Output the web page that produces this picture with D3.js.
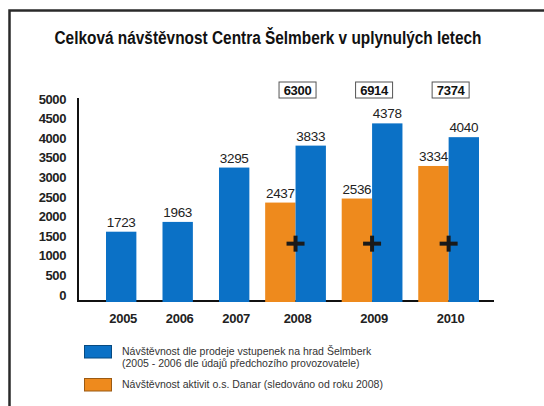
<!DOCTYPE html>
<html><head><meta charset="utf-8">
<script src="https://cdn.jsdelivr.net/npm/d3@7"></script>
<style>body{margin:0;background:#fff}svg{display:block}</style>
</head><body>
<script>
const years = ["2005","2006","2007","2008","2009","2010"];
const castleVisits = [1723,1963,3295,3833,4378,4040];   // blue series
const danarVisits  = [null,null,null,2437,2536,3334];  // orange series
const totals       = [null,null,null,6300,6914,7374];
const yTicks = [0,500,1000,1500,2000,2500,3000,3500,4000,4500,5000];
const titleText = "Celková návštěvnost Centra Šelmberk v uplynulých letech";
const legendLabels = [
  ["Návštěvnost dle prodeje vstupenek na hrad Šelmberk","(2005 - 2006 dle údajů předchozího provozovatele)"],
  ["Návštěvnost aktivit o.s. Danar (sledováno od roku 2008)"]
];
const plusLevel = 1430;

const W=544,H=406;
const BLUE="#0b71c6", ORANGE="#ee8a1d";
const FONT="'Liberation Sans Narrow','Liberation Sans',Arial,sans-serif";
const svg=d3.select("body").append("svg").attr("width",W).attr("height",H);

// frame
svg.append("path").attr("d",`M9.5,${H} V10.5 H${W}`).attr("fill","none").attr("stroke","#2a2a2a").attr("stroke-width",2.5);

// title
svg.append("text").attr("x",268).attr("y",44).attr("text-anchor","middle")
  .attr("font-family",FONT).attr("font-weight","bold").attr("font-size",17.5)
  .attr("textLength",427).attr("lengthAdjust","spacingAndGlyphs").attr("fill","#111").text(titleText);

// scales
const y=d3.scaleLinear().domain([0,5000]).range([302,98]);
const yLab=d3.scaleLinear().domain([0,5000]).range([295,99]);

// x layout in "bar units"
const gapSingle=0.86, gapDouble=0.52;
const groups=[]; let u=0;
years.forEach((yr,i)=>{
  const n = danarVisits[i]!=null ? 2 : 1;
  if(i>0) u += (n===2?gapDouble:gapSingle);
  groups.push({year:yr,start:u,n,i}); u+=n;
});
const x=d3.scaleLinear().domain([0,u]).range([106,479]);
const bw=x(1)-x(0);

// axes lines
svg.append("line").attr("x1",78).attr("x2",78).attr("y1",98).attr("y2",301).attr("stroke","#111").attr("stroke-width",2);
svg.append("line").attr("x1",77).attr("x2",494).attr("y1",301).attr("y2",301).attr("stroke","#111").attr("stroke-width",2);

// y tick labels
const ya=d3.axisLeft(yLab).tickValues(yTicks).tickFormat(d3.format("d")).tickSize(0).tickPadding(0);
const yg=svg.append("g").attr("transform","translate(66,0)").call(ya);
yg.select(".domain").remove();
yg.selectAll("text").attr("font-family","'Liberation Sans',Arial,sans-serif").attr("font-size",13).attr("fill","#222").attr("font-weight","bold").attr("letter-spacing","-0.4");

// bars
const bars=[];
groups.forEach(g=>{
  let k=0;
  if(danarVisits[g.i]!=null){bars.push({v:danarVisits[g.i],pos:g.start+k,c:ORANGE});k++;}
  bars.push({v:castleVisits[g.i],pos:g.start+k,c:BLUE});
});
svg.selectAll("rect.bar").data(bars).join("rect").attr("class","bar")
  .attr("x",d=>x(d.pos)).attr("width",bw).attr("y",d=>y(d.v)).attr("height",d=>y(0)-y(d.v))
  .attr("fill",d=>d.c);
svg.selectAll("text.val").data(bars).join("text").attr("class","val")
  .attr("x",d=>x(d.pos+0.5)).attr("y",d=>y(d.v)-5).attr("text-anchor","middle")
  .attr("font-family","'Liberation Sans',Arial,sans-serif").attr("font-size",13.5).attr("fill","#222").attr("letter-spacing","-0.3")
  .text(d=>d.v);

// year labels
svg.selectAll("text.yr").data(groups).join("text").attr("class","yr")
  .attr("x",g=>x(g.start+g.n/2)+2).attr("y",323).attr("text-anchor","middle")
  .attr("font-family","'Liberation Sans',Arial,sans-serif").attr("font-weight","bold").attr("font-size",13).attr("fill","#222").attr("letter-spacing","-0.3")
  .text(g=>g.year);

// plus signs and totals
const dbl=groups.filter(g=>totals[g.i]!=null);
const pl=svg.selectAll("g.plus").data(dbl).join("g").attr("class","plus")
  .attr("transform",g=>`translate(${x(g.start+1)},${y(plusLevel)})`);
pl.append("line").attr("x1",-9).attr("x2",9).attr("stroke","#1a1a1a").attr("stroke-width",4);
pl.append("line").attr("y1",-8).attr("y2",8).attr("stroke","#1a1a1a").attr("stroke-width",4);

const tb=svg.selectAll("g.tot").data(dbl).join("g").attr("class","tot")
  .attr("transform",g=>`translate(${x(g.start+1)+2},90)`);
tb.append("rect").attr("x",-18.5).attr("y",-8).attr("width",37).attr("height",16).attr("fill","#fff").attr("stroke","#555").attr("stroke-width",1);
tb.append("text").attr("text-anchor","middle").attr("y",5).attr("font-family","'Liberation Sans',Arial,sans-serif")
  .attr("font-weight","bold").attr("font-size",13).attr("fill","#111").attr("letter-spacing","-0.3").text(g=>totals[g.i]);

// legend
const lg=svg.append("g");
const items=[{c:BLUE,y:345,lines:legendLabels[0]},{c:ORANGE,y:378,lines:legendLabels[1]}];
items.forEach(it=>{
  lg.append("rect").attr("x",84.5).attr("y",it.y+0.5).attr("width",27).attr("height",12.5).attr("fill",it.c).attr("stroke",d3.color(it.c).darker(1.2)).attr("stroke-width",1);
  it.lines.forEach((t,j)=>{
    lg.append("text").attr("x",122).attr("y",it.y+9.5+j*12.5).attr("font-family",FONT)
      .attr("font-size",10.5).attr("fill","#333").text(t);
  });
});
</script>
</body></html>
